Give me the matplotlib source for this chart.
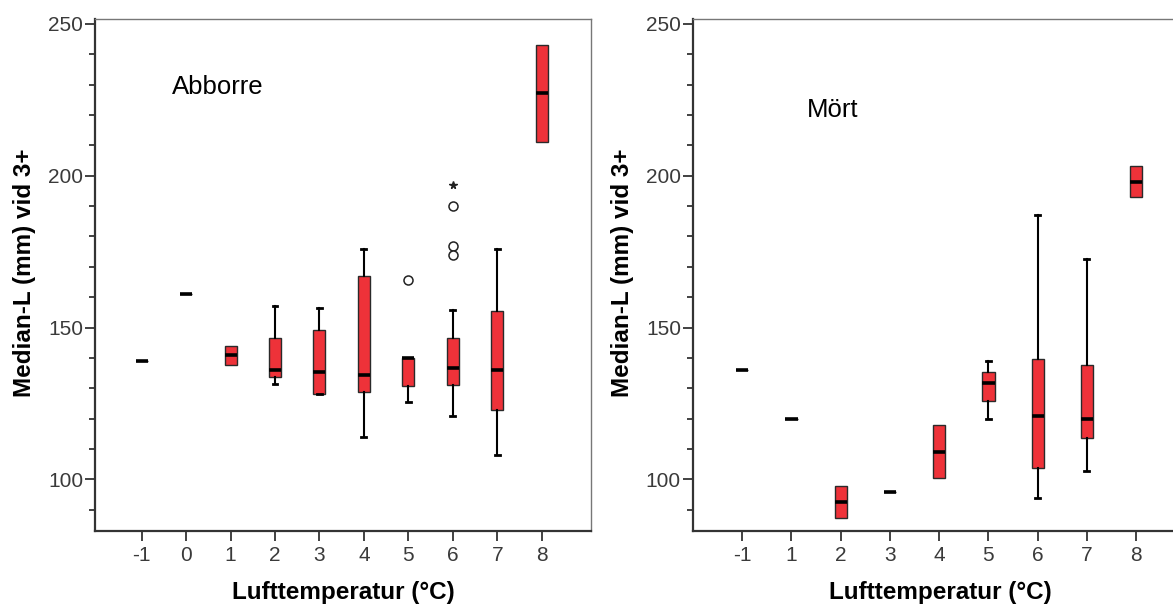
import matplotlib
matplotlib.use("Agg")
import matplotlib.pyplot as plt
from matplotlib.ticker import MultipleLocator

plt.rcParams['font.family'] = ['Liberation Sans', 'DejaVu Sans']

# ---------------- data ----------------
# Abborre (left panel)
ab_cats = ['-1', '0', '1', '2', '3', '4', '5', '6', '7', '8']
ab_whislo = [139.0, 161.0, 137.8, 131.5, 128.0, 114.0, 125.4, 120.8, 108.0, 211.0]
ab_q1 = [139.0, 161.0, 137.8, 133.7, 128.2, 128.9, 130.8, 131.1, 122.8, 211.0]
ab_med = [139.0, 161.0, 141.0, 135.9, 135.5, 134.4, 140.0, 136.6, 135.9, 227.1]
ab_q3 = [139.0, 161.0, 143.8, 146.4, 149.1, 166.9, 140.0, 146.7, 155.4, 243.1]
ab_whishi = [139.0, 161.0, 143.8, 157.0, 156.4, 176.0, 140.0, 155.9, 176.0, 243.1]
ab_outliers = [[], [], [], [], [], [], [165.5], [189.9, 176.7, 174.0], [], []]
ab_extremes = [[], [], [], [], [], [], [], [197.0], [], []]

# Mört (right panel)
mo_cats = ['-1', '1', '2', '3', '4', '5', '6', '7', '8']
mo_whislo = [136.0, 120.0, 87.3, 95.8, 100.3, 120.0, 93.9, 102.9, 193.0]
mo_q1 = [136.0, 120.0, 87.3, 95.8, 100.3, 125.8, 103.8, 113.5, 193.0]
mo_med = [136.0, 120.0, 92.6, 95.8, 109.1, 131.9, 120.8, 120.0, 198.0]
mo_q3 = [136.0, 120.0, 97.8, 95.8, 117.9, 135.4, 139.8, 137.8, 203.1]
mo_whishi = [136.0, 120.0, 97.8, 95.8, 117.9, 138.9, 186.9, 172.6, 203.1]
mo_outliers = [[] for _ in mo_cats]
mo_extremes = [[] for _ in mo_cats]

y_ticks = [100, 150, 200, 250]
x_label = 'Lufttemperatur (°C)'
y_label = 'Median-L (mm) vid 3+'

BOX_COLOR = '#EE3239'
W, H = 1173, 605

fig = plt.figure(figsize=(W / 100, H / 100), dpi=100)


def px_axes(x0, x1, y0, y1):
    return fig.add_axes([x0 / W, 1 - y1 / H, (x1 - x0) / W, (y1 - y0) / H])


def draw_panel(ax, cats, wlo, q1, med, q3, whi, outl, extr, xlim, width, title, tpos):
    stats = []
    for i in range(len(cats)):
        stats.append(dict(med=med[i], q1=q1[i], q3=q3[i], whislo=wlo[i],
                          whishi=whi[i], fliers=[], label=cats[i]))
    pos = list(range(len(cats)))
    res = ax.bxp(stats, positions=pos, widths=width, patch_artist=True,
                 showfliers=False, capwidths=width * 0.4,
                 boxprops=dict(facecolor=BOX_COLOR, edgecolor='#2a2a2a', linewidth=1.0),
                 medianprops=dict(color='black', linewidth=2.6, solid_capstyle='butt'),
                 whiskerprops=dict(color='black', linewidth=1.5),
                 capprops=dict(color='black', linewidth=2.0))
    # hide caps where whisker coincides with box edge
    for i in range(len(cats)):
        if abs(wlo[i] - q1[i]) < 0.15:
            res['caps'][2 * i].set_visible(False)
        if abs(whi[i] - q3[i]) < 0.15:
            res['caps'][2 * i + 1].set_visible(False)
    for i in range(len(cats)):
        if outl[i]:
            ax.plot([pos[i]] * len(outl[i]), outl[i], linestyle='none', marker='o',
                    markersize=6.5, markerfacecolor='white', markeredgecolor='#222222',
                    markeredgewidth=1.1)
        if extr[i]:
            ax.plot([pos[i]] * len(extr[i]), extr[i], linestyle='none', marker='*',
                    markersize=5.5, color='#222222')
    ax.set_xlim(*xlim)
    ax.set_ylim(83.0, 251.6)
    ax.set_xticks(pos)
    ax.set_xticklabels(cats)
    ax.set_yticks(y_ticks)
    ax.yaxis.set_minor_locator(MultipleLocator(10))
    ax.tick_params(axis='x', which='major', direction='out', length=7, width=1.3,
                   color='#333333', labelsize=15, labelcolor='#3a3a3a', pad=4)
    ax.tick_params(axis='y', which='major', direction='out', length=7, width=1.3,
                   color='#333333', labelsize=15, labelcolor='#3a3a3a', pad=1.5)
    ax.tick_params(axis='y', which='minor', direction='out', length=4, width=1.3,
                   color='#333333')
    ax.tick_params(axis='x', which='minor', bottom=False)
    for s in ['left', 'bottom']:
        ax.spines[s].set_linewidth(1.6)
        ax.spines[s].set_color('#333333')
    for s in ['top', 'right']:
        ax.spines[s].set_linewidth(1.0)
        ax.spines[s].set_color('#777777')
    ax.text(tpos[0], tpos[1], title, transform=ax.transAxes, fontsize=18.5,
            ha='left', va='baseline', color='black')


ax1 = px_axes(95, 591, 19, 531)
draw_panel(ax1, ab_cats, ab_whislo, ab_q1, ab_med, ab_q3, ab_whishi,
           ab_outliers, ab_extremes, (-1.05, 10.11), 0.27, 'Abborre', (0.155, 0.8535))

ax2 = px_axes(692.7, 1185.7, 19, 531)
draw_panel(ax2, mo_cats, mo_whislo, mo_q1, mo_med, mo_q3, mo_whishi,
           mo_outliers, mo_extremes, (-1.006, 9.006), 0.25, 'Mört', (0.232, 0.809))

# axis labels
for xc in (343, 940):
    fig.text(xc / W, 1 - 592 / H, x_label, fontsize=17.5, fontweight='bold',
             ha='center', va='center')
for xc in (25, 622):
    fig.text(xc / W, 1 - 273 / H, y_label, fontsize=17.5, fontweight='bold',
             ha='center', va='center', rotation=90)

fig.savefig('out.png', dpi=100)
